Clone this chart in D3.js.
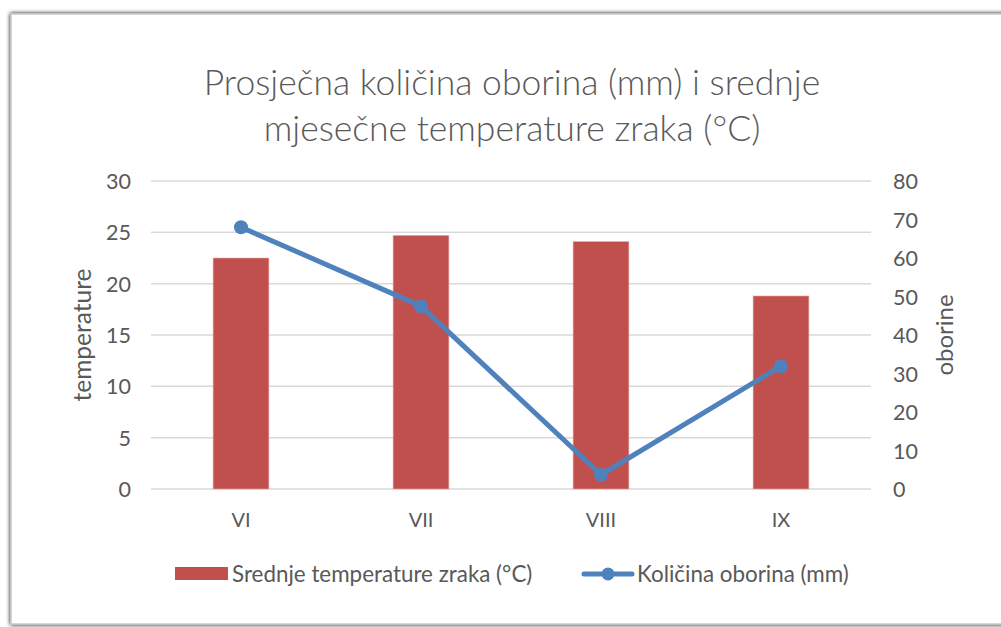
<!DOCTYPE html>
<html>
<head>
<meta charset="utf-8">
<script src="https://cdn.jsdelivr.net/npm/d3@7"></script>
<style>
  body { margin: 0; background: #fff; }
  text { font-family: Lato, "Open Sans", sans-serif; fill: #595959; }
</style>
</head>
<body>
<div id="chart"></div>
<script>

// ======================= //
// DATA
// ======================= //

var months = ["VI", "VII", "VIII", "IX"]
var temperature = [22.5, 24.7, 24.1, 18.8]   // bars, left axis
var precipitation = [68, 47.5, 3.7, 31.9]    // line, right axis
var leftTicks = [0, 5, 10, 15, 20, 25, 30]
var rightTicks = [0, 10, 20, 30, 40, 50, 60, 70, 80]

var titleLines = ["Prosječna količina oborina (mm) i srednje", "mjesečne temperature zraka (°C)"]
var barName = "Srednje temperature zraka (°C)"
var lineName = "Količina oborina (mm)"

var barColor = "#C0504D"
var lineColor = "#4F81BD"

// ======================= //
// SVG AREA
// ======================= //

var W = 1001, H = 627
var margin = {top: 181, left: 151, right: 130, bottom: 138}
var width = W - margin.left - margin.right,
    height = H - margin.top - margin.bottom

var root = d3.select("#chart").append("svg")
  .attr("width", W)
  .attr("height", H)

// shadow for the chart frame
var defs = root.append("defs")
var f = defs.append("filter").attr("id", "shadow")
  .attr("x", "-5%").attr("y", "-5%").attr("width", "110%").attr("height", "110%")
f.append("feGaussianBlur").attr("in", "SourceAlpha").attr("stdDeviation", 2)
f.append("feOffset").attr("dx", 0).attr("dy", 0).attr("result", "b")
var fm = f.append("feMerge")
fm.append("feMergeNode").attr("in", "b")
fm.append("feMergeNode").attr("in", "SourceGraphic")

root.append("rect")
  .attr("x", 11).attr("y", 14)
  .attr("width", 1010).attr("height", 610)
  .attr("fill", "#fff")
  .attr("stroke", "#c8c8c8")
  .attr("stroke-width", 1.5)
  .style("filter", "url(#shadow)")

var svg = root.append("g")
  .attr("transform", "translate(" + margin.left + "," + margin.top + ")")

// ======================= //
// SCALES
// ======================= //

var x = d3.scaleBand()
  .domain(months)
  .range([0, width])
  .paddingInner(0.69)
  .paddingOuter(0.345)

var xc = d3.scaleBand().domain(months).range([0, width])

var yLeft = d3.scaleLinear().domain([0, 30]).range([height, 0])
var yRight = d3.scaleLinear().domain([0, 80]).range([height, 0])

// ======================= //
// GRID + AXES
// ======================= //

svg.selectAll(".grid")
  .data(leftTicks)
  .enter()
  .append("line")
    .attr("x1", 0)
    .attr("x2", width)
    .attr("y1", function(d) { return yLeft(d) })
    .attr("y2", function(d) { return yLeft(d) })
    .attr("stroke", "#d9d9d9")
    .attr("stroke-width", 1.5)

svg.selectAll(".lLab")
  .data(leftTicks)
  .enter()
  .append("text")
    .attr("x", -20)
    .attr("y", function(d) { return yLeft(d) + 8 })
    .style("text-anchor", "end")
    .style("font-size", "21.5px")
    .text(function(d) { return d })

svg.selectAll(".rLab")
  .data(rightTicks)
  .enter()
  .append("text")
    .attr("x", width + 22)
    .attr("y", function(d) { return yRight(d) + 8 })
    .style("text-anchor", "start")
    .style("font-size", "21.5px")
    .text(function(d) { return d })

svg.selectAll(".xLab")
  .data(months)
  .enter()
  .append("text")
    .attr("x", function(d) { return xc(d) + xc.bandwidth() / 2 })
    .attr("y", height + 38)
    .style("text-anchor", "middle")
    .style("font-size", "20px")
    .text(function(d) { return d })

svg.append("text")
  .attr("transform", "translate(" + (-60) + "," + (height / 2) + ") rotate(-90)")
  .style("text-anchor", "middle")
  .style("font-size", "24.5px")
  .text("temperature")

svg.append("text")
  .attr("transform", "translate(" + (width + 82) + "," + (height / 2) + ") rotate(-90)")
  .style("text-anchor", "middle")
  .style("font-size", "24px")
  .text("oborine")

// ======================= //
// BARS
// ======================= //

svg.selectAll(".bar")
  .data(months)
  .enter()
  .append("rect")
    .attr("x", function(d) { return x(d) })
    .attr("width", x.bandwidth())
    .attr("y", function(d, i) { return yLeft(temperature[i]) })
    .attr("height", function(d, i) { return height - yLeft(temperature[i]) })
    .attr("fill", barColor)
    .attr("stroke", "#e8a8a6")
    .attr("stroke-width", 0.6)

// ======================= //
// LINE
// ======================= //

var line = d3.line()
  .x(function(d, i) { return xc(months[i]) + xc.bandwidth() / 2 })
  .y(function(d) { return yRight(d) })

svg.append("path")
  .datum(precipitation)
  .attr("d", line)
  .attr("fill", "none")
  .attr("stroke", lineColor)
  .attr("stroke-width", 5)
  .attr("stroke-linejoin", "round")

svg.selectAll(".dot")
  .data(precipitation)
  .enter()
  .append("circle")
    .attr("cx", function(d, i) { return xc(months[i]) + xc.bandwidth() / 2 })
    .attr("cy", function(d) { return yRight(d) })
    .attr("r", 7)
    .attr("fill", lineColor)

// ======================= //
// TITLE
// ======================= //

root.selectAll(".title")
  .data(titleLines)
  .enter()
  .append("text")
    .attr("x", 512)
    .attr("y", function(d, i) { return 95 + i * 46 })
    .style("text-anchor", "middle")
    .style("font-size", "35.5px")
    .style("font-weight", 300)
    .text(function(d) { return d })

// ======================= //
// LEGEND
// ======================= //

var leg = root.append("g")

leg.append("rect")
  .attr("x", 175).attr("y", 567)
  .attr("width", 53).attr("height", 13)
  .attr("fill", barColor)

leg.append("text")
  .attr("x", 232).attr("y", 582)
  .style("font-size", "22.4px")
  .text(barName)

leg.append("line")
  .attr("x1", 584).attr("x2", 632)
  .attr("y1", 574).attr("y2", 574)
  .attr("stroke", lineColor)
  .attr("stroke-width", 5)
  .attr("stroke-linecap", "round")

leg.append("circle")
  .attr("cx", 608).attr("cy", 574)
  .attr("r", 6.5)
  .attr("fill", lineColor)

leg.append("text")
  .attr("x", 637).attr("y", 582)
  .style("font-size", "22.4px")
  .text(lineName)

</script>
</body>
</html>
